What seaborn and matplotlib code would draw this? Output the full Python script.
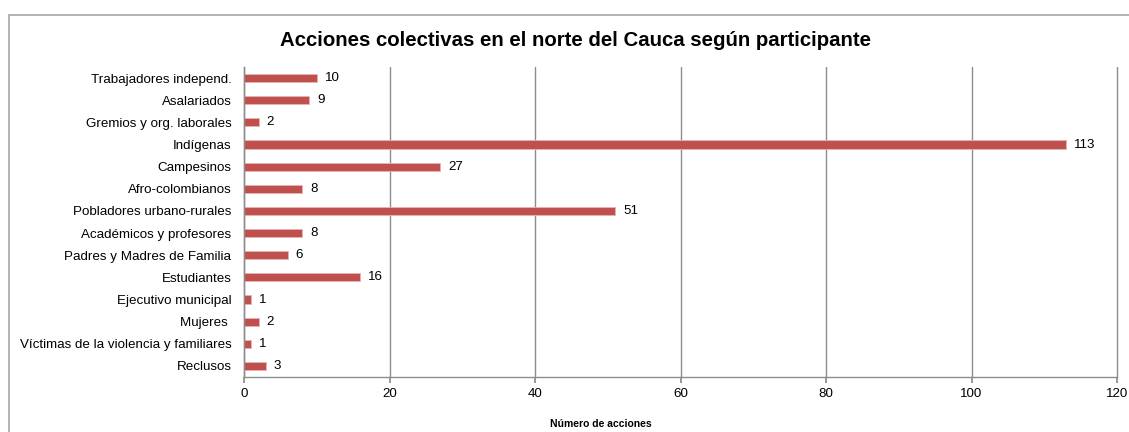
import matplotlib
matplotlib.use("Agg")
import matplotlib.pyplot as plt
from matplotlib.patches import Rectangle
import seaborn as sns
import pandas as pd

categorias = [
    "Trabajadores independ.",
    "Asalariados",
    "Gremios y org. laborales",
    "Indígenas",
    "Campesinos",
    "Afro-colombianos",
    "Pobladores urbano-rurales",
    "Académicos y profesores",
    "Padres y Madres de Familia",
    "Estudiantes",
    "Ejecutivo municipal",
    "Mujeres ",
    "Víctimas de la violencia y familiares",
    "Reclusos",
]
acciones = [10, 9, 2, 113, 27, 8, 51, 8, 6, 16, 1, 2, 1, 3]
ticks_x = [0, 20, 40, 60, 80, 100, 120]

df = pd.DataFrame({"participante": categorias, "acciones": acciones})

sns.set_theme(style="white")
plt.rcParams["font.family"] = ["Liberation Sans", "DejaVu Sans"]
plt.rcParams["text.color"] = "black"
plt.rcParams["xtick.color"] = "#8c8c8c"
plt.rcParams["xtick.labelcolor"] = "black"
plt.rcParams["ytick.labelcolor"] = "black"
plt.rcParams["axes.labelcolor"] = "black"

W, H = 1129, 432
fig = plt.figure(figsize=(W / 100, H / 100), dpi=100)
ax = fig.add_axes([244 / W, 1 - 377 / H, (1117 - 244) / W, (377 - 67) / H])

bar_color = "#c0504d"
sns.barplot(data=df, x="acciones", y="participante", orient="h",
            color=bar_color, width=0.37, ax=ax, saturation=1,
            edgecolor="#e8b5b4", linewidth=0.6)

ax.set_xlim(0, 120)
ax.set_ylim(len(categorias) - 0.5, -0.5)
ax.set_xticks(ticks_x)
ax.set_xticklabels([str(t) for t in ticks_x], fontsize=9.6)
ax.tick_params(axis="y", labelsize=9.6, length=0, pad=9)
ax.tick_params(axis="x", length=4, pad=4, direction="out", bottom=True)
ax.grid(axis="x", color="#8c8c8c", linewidth=1)
for gl in ax.get_xgridlines():
    gl.set_clip_on(False)
ax.set_axisbelow(True)
for side in ["top", "right"]:
    ax.spines[side].set_visible(False)
for side in ["left", "bottom"]:
    ax.spines[side].set_color("#8c8c8c")
    ax.spines[side].set_linewidth(1)

for i, v in enumerate(acciones):
    ax.text(v + 1.1, i, str(v), va="center", ha="left", fontsize=9.6,
            color="black")

ax.set_ylabel("")
ax.set_xlabel("Número de acciones", fontsize=7.5, fontweight="bold")
ax.xaxis.set_label_coords((601 - 244) / (1117 - 244), -42 / (377 - 67))

fig.text(0.51, 1 - 41 / H, "Acciones colectivas en el norte del Cauca según participante",
         ha="center", va="center", fontsize=14.7, fontweight="bold")

# chart frame
fig.patches.append(Rectangle((9 / W, -0.05), 1.2, 1 - 15 / H + 0.05,
                             transform=fig.transFigure, fill=False,
                             edgecolor="#a6a6a6", linewidth=1.2))

fig.savefig("out.png", dpi=100)
